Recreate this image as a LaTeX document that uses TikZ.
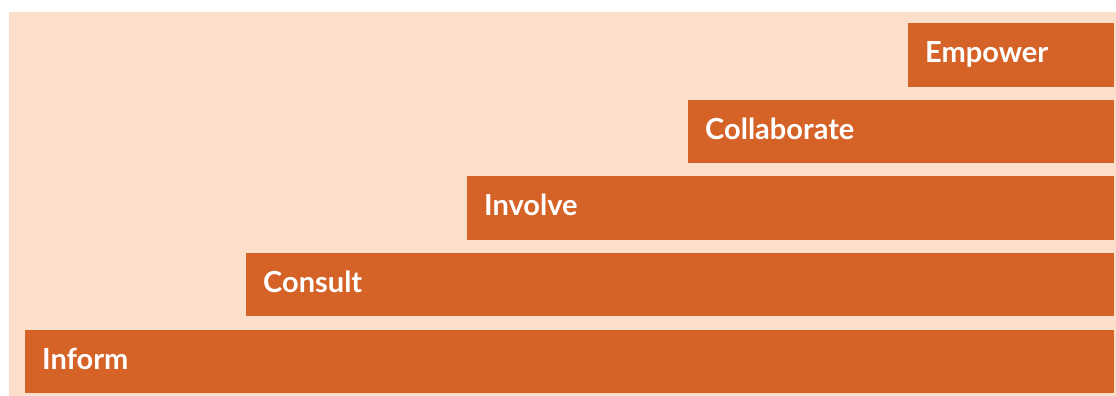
\documentclass[tikz,border=0pt]{standalone}
\usepackage{fontspec}
\setmainfont{Lato}
\definecolor{bgpeach}{HTML}{FCDFCB}
\definecolor{barorange}{HTML}{D56227}
\begin{document}
\begin{tikzpicture}[x=1pt,y=1pt,
  barfill/.style={fill=barorange},
  lbl/.style={text=white,font=\fontsize{29}{34}\selectfont\bfseries,inner sep=0pt,anchor=base west}]
\useasboundingbox (0,0) rectangle (1116,396);
\fill[bgpeach] (9,0) rectangle (1116,384);
% bars: top y (px) -> tikz y = 396 - px
\fill[barfill] (908,309.3) rectangle (1114,373);   % Empower 23-86.7
\fill[barfill] (688,232.7) rectangle (1114,296);   % Collaborate 100-163.3
\fill[barfill] (467,156.3) rectangle (1114,220);   % Involve 176-239.7
\fill[barfill] (246,79.7) rectangle (1114,143);    % Consult 253-316.3
\fill[barfill] (25,2.7) rectangle (1114,66);       % Inform 330-393.3
\node[lbl] (empower) at (925,333.3) {Empower};
\node[lbl] (collaborate) at (705,256.3) {Collaborate};
\node[lbl] (involve) at (484,180) {Involve};
\node[lbl] (consult) at (263,103.3) {Consult};
\node[lbl] (inform) at (42,26.3) {Inform};
\end{tikzpicture}
\end{document}
